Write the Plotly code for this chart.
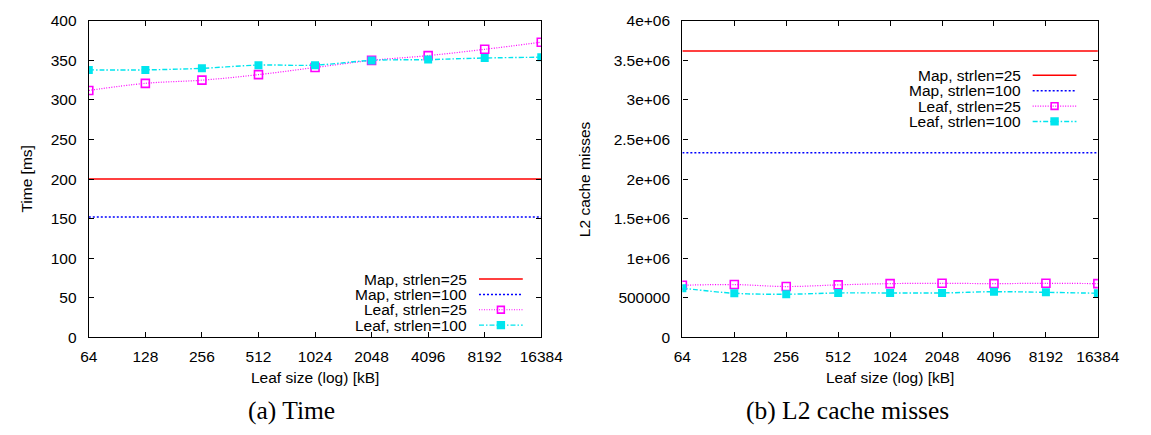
import plotly.graph_objects as go

# Leaf sizes in kB (log-scaled x axis)
leaf_kb = [64, 128, 256, 512, 1024, 2048, 4096, 8192, 16384]
leaf_labels = ["64", "128", "256", "512", "1024", "2048", "4096", "8192", "16384"]

# (a) Time [ms]
time_map_25 = [200, 200, 200, 200, 200, 200, 200, 200, 200]
time_map_100 = [152, 152, 152, 152, 152, 152, 152, 152, 152]
time_leaf_25 = [312, 321, 325, 332, 341, 350, 356, 364, 373]
time_leaf_100 = [338, 338, 340, 344, 344, 350, 351, 353, 354]
time_ticks = [0, 50, 100, 150, 200, 250, 300, 350, 400]

# (b) L2 cache misses
l2_map_25 = [3618000, 3618000, 3618000, 3618000, 3618000, 3618000, 3618000, 3618000, 3618000]
l2_map_100 = [2333000, 2333000, 2333000, 2333000, 2333000, 2333000, 2333000, 2333000, 2333000]
l2_leaf_25 = [658000, 667000, 642000, 663000, 679000, 683000, 679000, 683000, 679000]
l2_leaf_100 = [622000, 557000, 545000, 561000, 561000, 561000, 577000, 569000, 557000]
l2_ticks = [0, 500000, 1000000, 1500000, 2000000, 2500000, 3000000, 3500000, 4000000]
l2_tick_labels = ["0", "500000", "1e+06", "1.5e+06", "2e+06", "2.5e+06", "3e+06", "3.5e+06", "4e+06"]

series_names = ["Map, strlen=25", "Map, strlen=100", "Leaf, strlen=25", "Leaf, strlen=100"]

W, H = 1151, 435
RED, BLUE, MAGENTA, CYAN = "#ff0000", "#0000ff", "#ff00ff", "#00e5ee"
SANS = "Liberation Sans, Arial, sans-serif"
SERIF = "Liberation Serif, Times New Roman, serif"
FS = 15.5


def px(x):
    return x / W


def py(y):
    return 1 - y / H


styles = [
    dict(line=dict(color=RED, width=1.5), mode="lines"),
    dict(line=dict(color=BLUE, width=1.5, dash="2px,2px"), mode="lines"),
    dict(line=dict(color=MAGENTA, width=1.2, dash="1px,1.5px", shape="spline"),
         mode="lines+markers",
         marker=dict(symbol="square-open", size=8, color=MAGENTA, line=dict(width=1.6))),
    dict(line=dict(color=CYAN, width=1.4, dash="5px,2px,1.5px,2px", shape="spline"),
         mode="lines+markers",
         marker=dict(symbol="square", size=8, color=CYAN)),
]

fig = go.Figure()

panels = [
    ("x", "y", [time_map_25, time_map_100, time_leaf_25, time_leaf_100]),
    ("x2", "y2", [l2_map_25, l2_map_100, l2_leaf_25, l2_leaf_100]),
]
for xa, ya, series in panels:
    for name, vals, st in zip(series_names, series, styles):
        fig.add_trace(go.Scatter(x=leaf_kb, y=vals, name=name, xaxis=xa, yaxis=ya,
                                 showlegend=False, **st))

# plot frames in pixels: (left, right, top, bottom)
frames = [(82, 547, 12.3, 341.7), (692, 1119, 12.3, 341.7)]

axis_common = dict(
    showline=True, linecolor="black", linewidth=1.3, mirror="ticks",
    ticks="inside", ticklen=5, tickwidth=1.1, tickcolor="black",
    showgrid=False, zeroline=False,
    tickfont=dict(family=SANS, size=FS, color="black"),
)

x_range = [1.80618, 4.21442]  # log10(64) .. log10(16384)

fig.update_layout(
    width=W, height=H,
    margin=dict(l=0, r=0, t=0, b=0),
    paper_bgcolor="white", plot_bgcolor="white",
    xaxis=dict(domain=[px(frames[0][0]), px(frames[0][1])], type="log", range=x_range,
               tickvals=leaf_kb, ticktext=leaf_labels, anchor="y",
               ticklabelstandoff=5, **axis_common),
    yaxis=dict(domain=[py(frames[0][3]), py(frames[0][2])], range=[0, 400],
               tickvals=time_ticks, anchor="x", ticklabelstandoff=8, **axis_common),
    xaxis2=dict(domain=[px(frames[1][0]), px(frames[1][1])], type="log", range=x_range,
                tickvals=leaf_kb, ticktext=leaf_labels, anchor="y2",
                ticklabelstandoff=5, **axis_common),
    yaxis2=dict(domain=[py(frames[1][3]), py(frames[1][2])], range=[0, 4000000],
                tickvals=l2_ticks, ticktext=l2_tick_labels, anchor="x2",
                ticklabelstandoff=8, **axis_common),
)

annotations = []
shapes = []

# axis titles
for x_c, text in [(314.5, "Leaf size (log) [kB]"), (905.5, "Leaf size (log) [kB]")]:
    annotations.append(dict(x=px(x_c), y=py(383), xref="paper", yref="paper", text=text,
                            showarrow=False, xanchor="center", yanchor="middle",
                            font=dict(family=SANS, size=FS, color="black")))
for x_c, text in [(18, "Time [ms]"), (591, "L2 cache misses")]:
    annotations.append(dict(x=px(x_c), y=py(177), xref="paper", yref="paper", text=text,
                            showarrow=False, textangle=-90, xanchor="center", yanchor="middle",
                            font=dict(family=SANS, size=FS, color="black")))

# sub-figure captions
for x_c, text in [(290, "(a) Time"), (862, "(b) L2 cache misses")]:
    annotations.append(dict(x=px(x_c), y=py(418), xref="paper", yref="paper", text=text,
                            showarrow=False, xanchor="center", yanchor="middle",
                            font=dict(family=SERIF, size=25.5, color="black")))

# keys: text right edge, sample start/end, row y positions
keys = [
    (473, 483, 528, [281, 297, 313, 329]),
    (1042, 1052, 1097, [69, 85, 101, 117]),
]
for text_right, s0, s1, rows in keys:
    for name, st, yrow in zip(series_names, styles, rows):
        annotations.append(dict(x=px(text_right), y=py(yrow), xref="paper", yref="paper",
                                text=name, showarrow=False, xanchor="right", yanchor="middle",
                                font=dict(family=SANS, size=FS, color="black")))
        ln = st["line"]
        shapes.append(dict(type="line", xref="paper", yref="paper",
                           x0=px(s0), x1=px(s1), y0=py(yrow), y1=py(yrow),
                           line=dict(color=ln["color"], width=ln["width"],
                                     dash=ln.get("dash", "solid"))))
        if "marker" in st:
            mc = (s0 + s1) / 2
            half = 3.5
            filled = st["marker"]["symbol"] == "square"
            shapes.append(dict(type="rect", xref="paper", yref="paper",
                               x0=px(mc - half), x1=px(mc + half),
                               y0=py(yrow + half), y1=py(yrow - half),
                               line=dict(color=st["marker"]["color"], width=1.6),
                               fillcolor=st["marker"]["color"] if filled else "rgba(0,0,0,0)"))

fig.update_layout(annotations=annotations, shapes=shapes)

fig.write_html("out.html")
